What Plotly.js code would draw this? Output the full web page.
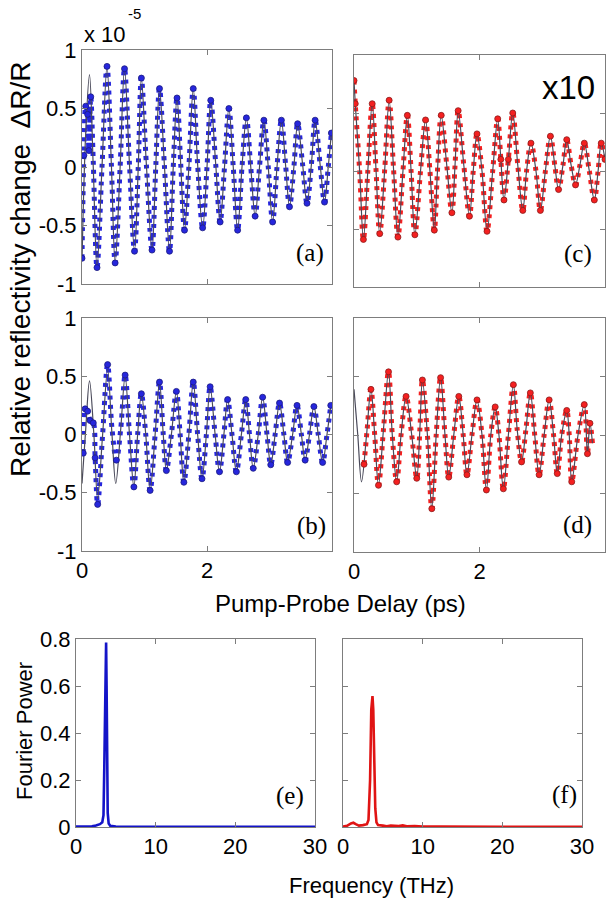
<!DOCTYPE html>
<html>
<head>
<meta charset="utf-8">
<script src="https://cdn.plot.ly/plotly-3.0.1.min.js"></script>
<style>html,body{margin:0;padding:0;background:#fff;}#plot{width:609px;height:900px;}</style>
</head>
<body>
<div id="plot"></div>
<script>
// ---------- Panel (a): blue, data ----------
const tA = [0.00,0.03,0.06,0.09,0.11,0.14,0.18,0.24,0.32,0.40,0.47,0.53,0.61,0.68,0.76,0.84,0.90,0.95,1.03,1.12,1.18,1.24,1.32,1.40,1.46,1.52,1.58,1.64,1.71,1.78,1.85,1.93,2.00,2.06,2.14,2.21,2.28,2.35,2.42,2.49,2.56,2.63,2.70,2.77,2.84,2.91,2.98,3.05,3.12,3.19,3.26,3.32,3.39,3.45,3.53,3.60,3.67,3.73,3.81,3.88,3.94,3.99];
const vA = [-0.78,0.10,0.52,0.45,0.14,0.60,0.05,-0.86,0.00,0.86,0.02,-0.82,0.00,0.84,0.02,-0.72,0.00,0.76,0.02,-0.71,0.00,0.67,0.00,-0.72,0.00,0.59,0.02,-0.54,0.00,0.67,0.02,-0.52,0.00,0.57,0.02,-0.47,0.00,0.50,0.00,-0.54,0.00,0.42,0.00,-0.42,0.00,0.40,0.00,-0.47,0.00,0.40,0.00,-0.34,0.00,0.37,0.02,-0.31,0.02,0.40,0.02,-0.30,0.00,0.29];
// fit (a), early part where it departs from the data
const fitA_t0 = [0.00,0.06,0.12,0.18,0.24];
const fitA_v0 = [-0.80,0.30,0.79,0.00,-0.86];

// ---------- Panel (c): red, x10 ----------
const tC = [0.00,0.02,0.09,0.15,0.22,0.29,0.35,0.41,0.49,0.56,0.63,0.70,0.78,0.85,0.91,0.97,1.06,1.14,1.21,1.28,1.33,1.39,1.48,1.56,1.61,1.66,1.75,1.84,1.90,1.96,2.04,2.12,2.21,2.29,2.34,2.39,2.46,2.53,2.61,2.69,2.75,2.82,2.90,2.97,3.05,3.13,3.20,3.26,3.33,3.39,3.46,3.53,3.60,3.67,3.75,3.83,3.89,3.94,4.00];
const vC = [0.78,0.58,0.00,-0.59,0.00,0.58,0.02,-0.54,0.02,0.61,0.02,-0.57,0.00,0.48,0.00,-0.55,0.00,0.44,0.00,-0.51,0.00,0.48,0.04,-0.36,0.05,0.52,0.05,-0.39,0.00,0.32,0.00,-0.52,0.00,0.45,0.10,-0.25,0.10,0.50,0.05,-0.34,0.00,0.24,0.00,-0.34,0.00,0.30,0.05,-0.16,0.05,0.27,0.05,-0.12,0.05,0.24,0.00,-0.25,0.00,0.24,0.10];

// ---------- Panel (b): blue ----------
const tB = [0.02,0.05,0.09,0.13,0.18,0.21,0.25,0.33,0.41,0.48,0.55,0.62,0.69,0.76,0.83,0.89,0.95,1.02,1.09,1.17,1.24,1.30,1.35,1.43,1.51,1.57,1.63,1.71,1.78,1.85,1.92,1.99,2.05,2.13,2.20,2.27,2.33,2.40,2.47,2.55,2.62,2.68,2.74,2.82,2.89,2.96,3.02,3.09,3.16,3.23,3.29,3.37,3.44,3.51,3.57,3.64,3.71,3.78,3.85,3.92,3.98];
const vB = [-0.16,0.22,0.20,0.12,0.10,-0.20,-0.60,0.00,0.60,0.05,-0.22,0.05,0.51,0.00,-0.45,0.00,0.35,0.00,-0.48,0.00,0.45,0.00,-0.31,0.00,0.37,0.00,-0.41,0.00,0.45,0.00,-0.38,0.00,0.41,0.00,-0.32,0.00,0.30,0.00,-0.32,0.00,0.30,0.00,-0.29,0.00,0.32,0.00,-0.26,0.00,0.27,0.00,-0.24,0.00,0.25,0.00,-0.22,0.00,0.24,0.00,-0.24,0.00,0.25];
const fitB_t0 = [0.00,0.06,0.12,0.19,0.25,0.33,0.41,0.48,0.54,0.62,0.69];
const fitB_v0 = [-0.42,0.05,0.46,0.00,-0.55,0.00,0.56,0.00,-0.42,0.05,0.50];

// ---------- Panel (d): red ----------
const tD = [0.16,0.21,0.27,0.33,0.39,0.47,0.55,0.61,0.68,0.75,0.83,0.92,1.00,1.05,1.09,1.17,1.24,1.31,1.38,1.45,1.51,1.59,1.67,1.74,1.80,1.88,1.96,2.04,2.11,2.18,2.25,2.31,2.38,2.46,2.54,2.60,2.67,2.74,2.81,2.88,2.95,3.03,3.11,3.18,3.24,3.31,3.39,3.43,3.47,3.57,3.67,3.72,3.76,3.80];
const vD = [-0.25,0.05,0.39,0.00,-0.43,0.05,0.54,0.00,-0.40,0.00,0.33,0.00,-0.37,0.05,0.47,0.00,-0.63,0.00,0.49,0.00,-0.36,0.00,0.33,0.00,-0.34,0.00,0.30,0.00,-0.47,0.00,0.24,0.00,-0.46,0.00,0.43,0.05,-0.23,0.05,0.36,0.00,-0.34,0.00,0.30,0.00,-0.33,0.00,0.21,0.00,-0.40,0.00,0.26,-0.16,0.10,-0.07];
const fitD_t0 = [0.00,0.06,0.12,0.20,0.27];
const fitD_v0 = [0.39,0.00,-0.40,0.00,0.39];

// ---------- Panel (e): Fourier power, blue ----------
const fE = [0,1,2,2.5,3.0,3.3,3.45,3.55,3.65,3.72,3.78,3.84,3.9,3.98,4.1,4.3,5,7,10,15,20,25,30];
const pE = [0.002,0.002,0.003,0.006,0.012,0.02,0.05,0.25,0.60,0.78,0.785,0.60,0.25,0.06,0.015,0.005,0.002,0.001,0.001,0.001,0.001,0.001,0.001];

// ---------- Panel (f): Fourier power, red ----------
const fF = [0,0.5,1.0,1.3,1.6,2.0,2.5,3.0,3.2,3.4,3.55,3.7,3.8,3.9,4.05,4.2,4.4,5.0,5.5,6.0,7.0,7.5,8.0,9,10,12,15,20,25,30];
const pF = [0.002,0.005,0.015,0.018,0.012,0.006,0.008,0.012,0.03,0.20,0.50,0.557,0.50,0.30,0.08,0.02,0.008,0.006,0.003,0.006,0.004,0.007,0.003,0.004,0.002,0.002,0.001,0.001,0.001,0.001];

// ---------- ticks ----------
const timeTicks = [0,2,4];
const timeTickText = ['0','2','4'];
const timeTickTextB = ['0','2',''];
const ampTicks = [-1,-0.5,0,0.5,1];
const ampTickText = ['-1','-0.5','0','0.5','1'];
const freqTicks = [0,10,20,30];
const freqTickText = ['0','10','20','30'];
const powTicks = [0,0.2,0.4,0.6,0.8];
const powTickText = ['0','0.2','0.4','0.6','0.8'];

// ---------- styles ----------
const BLUE = '#2626dc';
const BLUE_DK = '#1a1a80';
const RED = '#f42020';
const RED_DK = '#8a1a1a';
const FIT = '#4a4a5a';

function concatFit(t0, v0, t, v) {
  const last = t0[t0.length - 1];
  const ft = t0.slice(), fv = v0.slice();
  for (let i = 0; i < t.length; i++) { if (t[i] > last) { ft.push(t[i]); fv.push(v[i]); } }
  return [ft, fv];
}
// markers drawn at the turning points (where the measured points bunch up)
function turning(t, v) {
  const mt = [], mv = [];
  for (let i = 0; i < t.length; i++) { if (Math.abs(v[i]) >= 0.08) { mt.push(t[i]); mv.push(v[i]); } }
  return [mt, mv];
}

function timePanel(t, v, fit, col, colDk, xa, ya) {
  const m = turning(t, v);
  return [
    // measured points: dense dotted stroke along the data path
    {x: t, y: v, xaxis: xa, yaxis: ya, mode: 'lines', line: {color: col, width: 5, dash: '4px,5px', shape: 'spline', smoothing: 1}, hoverinfo: 'skip'},
    // fitted curve: thin dark line
    {x: fit[0], y: fit[1], xaxis: xa, yaxis: ya, mode: 'lines', line: {color: FIT, width: 1.2, shape: 'spline', smoothing: 1}, hoverinfo: 'skip'},
    {x: m[0], y: m[1], xaxis: xa, yaxis: ya, mode: 'markers', marker: {color: col, size: 6, line: {color: colDk, width: 0.8}}, hoverinfo: 'skip'}
  ];
}

const data = [].concat(
  timePanel(tA, vA, concatFit(fitA_t0, fitA_v0, tA, vA), BLUE, BLUE_DK, 'x', 'y'),
  timePanel(tC, vC, [tC, vC], RED, RED_DK, 'x2', 'y2'),
  timePanel(tB, vB, concatFit(fitB_t0, fitB_v0, tB, vB), BLUE, BLUE_DK, 'x3', 'y3'),
  timePanel(tD, vD, concatFit(fitD_t0, fitD_v0, tD, vD), RED, RED_DK, 'x4', 'y4'),
  [{x: fE, y: pE, xaxis: 'x5', yaxis: 'y5', mode: 'lines', line: {color: '#1414c8', width: 2.6}, hoverinfo: 'skip'},
   {x: fF, y: pF, xaxis: 'x6', yaxis: 'y6', mode: 'lines', line: {color: '#e01414', width: 2.6}, hoverinfo: 'skip'}]
);

const AXC = '#7d7d7d';
const TF = {family: 'Liberation Sans, Arial, sans-serif', size: 22, color: '#000'};
function axis(domain, range, anchor, tv, tt, show) {
  return {domain: domain, range: range, anchor: anchor, tickvals: tv, ticktext: tt, showticklabels: show,
    showline: true, linecolor: AXC, linewidth: 1, mirror: 'ticks', ticks: 'inside', ticklen: 5, tickcolor: AXC,
    tickwidth: 1, showgrid: false, zeroline: false, fixedrange: true, tickfont: TF};
}
const W = 609, H = 900;
const dx = (a, b) => [a / W, b / W];
const dy = (top, bot) => [1 - bot / H, 1 - top / H];

const serif = {family: 'Liberation Serif, Times New Roman, serif', size: 25, color: '#000'};
function ann(text, x, y, font, opts) {
  return Object.assign({text: text, x: x / W, y: 1 - y / H, xref: 'paper', yref: 'paper', showarrow: false, font: font, xanchor: 'center', yanchor: 'middle'}, opts || {});
}

const layout = {
  width: W, height: H, margin: {l: 0, r: 0, t: 0, b: 0},
  paper_bgcolor: '#fff', plot_bgcolor: '#fff', showlegend: false,
  font: TF,
  xaxis:  axis(dx(82, 332), [0, 4], 'y',  timeTicks, timeTickText, false),
  yaxis:  axis(dy(50, 284), [-1, 1], 'x', ampTicks, ampTickText, true),
  xaxis2: axis(dx(354, 605), [0, 4], 'y2', timeTicks, timeTickText, false),
  yaxis2: axis(dy(55, 287), [-1, 1], 'x2', ampTicks, ampTickText, false),
  xaxis3: axis(dx(82, 332), [0, 4], 'y3', timeTicks, timeTickTextB, true),
  yaxis3: axis(dy(318, 551), [-1, 1], 'x3', ampTicks, ampTickText, true),
  xaxis4: axis(dx(354, 605), [0, 4], 'y4', timeTicks, timeTickText, true),
  yaxis4: axis(dy(318, 552), [-1, 1], 'x4', ampTicks, ampTickText, false),
  xaxis5: axis(dx(76, 315), [0, 30], 'y5', freqTicks, freqTickText, true),
  yaxis5: axis(dy(639, 827), [0, 0.8], 'x5', powTicks, powTickText, true),
  xaxis6: axis(dx(343, 582), [0, 30], 'y6', freqTicks, freqTickText, true),
  yaxis6: axis(dy(639, 827), [0, 0.8], 'x6', powTicks, powTickText, false),
  annotations: [
    ann('x 10', 82, 34, TF, {xanchor: 'left'}),
    ann('-5', 126, 13, {family: TF.family, size: 15, color: '#000'}, {xanchor: 'left'}),
    ann('x10', 540, 88, {family: TF.family, size: 33, color: '#000'}, {xanchor: 'left'}),
    ann('(a)', 326, 253, serif, {xanchor: 'right'}),
    ann('(c)', 594, 254, serif, {xanchor: 'right'}),
    ann('(b)', 328, 526, serif, {xanchor: 'right'}),
    ann('(d)', 594, 525, serif, {xanchor: 'right'}),
    ann('(e)', 306, 796, serif, {xanchor: 'right'}),
    ann('(f)', 579, 795, serif, {xanchor: 'right'}),
    ann('Relative reflectivity change  \u0394R/R', 20, 269, {family: TF.family, size: 28, color: '#000'}, {textangle: -90}),
    ann('Pump-Probe Delay (ps)', 340, 603, {family: TF.family, size: 24, color: '#000'}),
    ann('Fourier Power', 24, 731, TF, {textangle: -90}),
    ann('Frequency (THz)', 371, 885, TF)
  ]
};

Plotly.newPlot('plot', data, layout, {staticPlot: true, displayModeBar: false});
</script>
</body>
</html>
